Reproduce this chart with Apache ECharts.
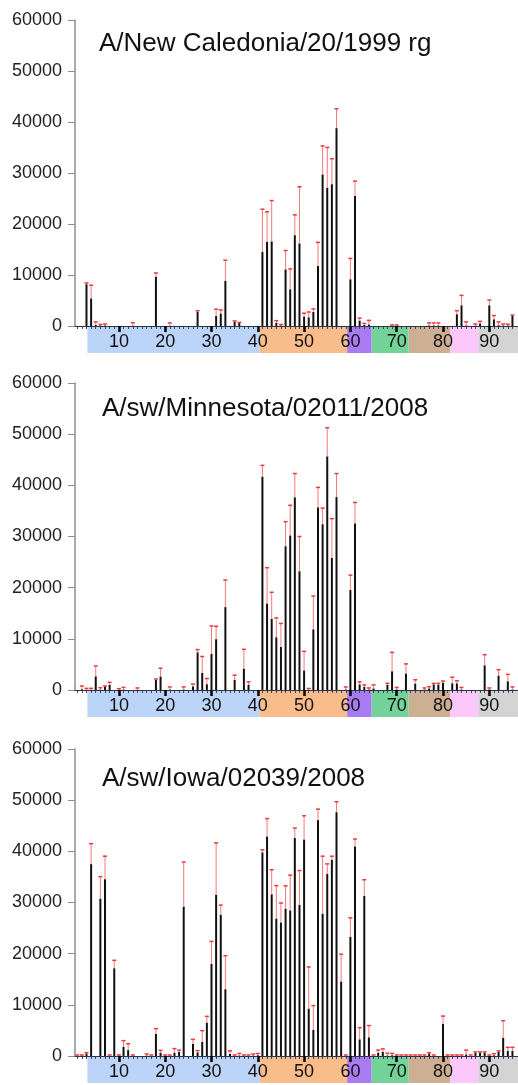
<!DOCTYPE html>
<html><head><meta charset="utf-8">
<script src="https://cdn.jsdelivr.net/npm/echarts@6/dist/echarts.min.js"></script>
<style>html,body{margin:0;padding:0;background:#fff}#c{width:518px;height:1085px}</style>
</head><body><div id="c"></div>
<script>
// ---------- data ----------
const positions = [1,2,3,4,5,6,7,8,9,10,11,12,13,14,15,16,17,18,19,20,21,22,23,24,25,26,27,28,29,30,
  31,32,33,34,35,36,37,38,39,40,41,42,43,44,45,46,47,48,49,50,51,52,53,54,55,56,57,58,59,60,
  61,62,63,64,65,66,67,68,69,70,71,72,73,74,75,76,77,78,79,80,81,82,83,84,85,86,87,88,89,90,
  91,92,93,94,95];
const tickLabels = [10,20,30,40,50,60,70,80,90];
const titles = ['A/New Caledonia/20/1999 rg','A/sw/Minnesota/02011/2008','A/sw/Iowa/02039/2008'];
const bandEdges = [3.2,40.4,59.3,64.6,72.6,81.6,87.6,96.2];
const bandColors = ['#bcd4f8','#f9bd8c','#a97bf2','#72d298','#cdb093','#fcc8fb','#d4d4d4'];

// panel 1: values and error-bar tops
const p1Values = [0,0,8200,5400,200,100,100,0,0,0,0,0,50,0,0,0,0,9650,0,0,
  50,0,0,0,0,0,2800,0,0,0,1950,2450,8850,0,850,600,0,0,0,0,
  14500,16500,16600,600,100,11100,7200,17800,16200,1850,1700,2750,11750,29700,27100,27800,38800,0,0,9150,
  25500,1050,200,300,0,0,0,0,50,50,0,0,0,0,0,0,100,100,100,0,
  0,0,2300,4050,100,0,100,500,0,4050,1300,150,100,100,2050];
const p1ErrTop = [0,0,8450,8000,800,300,400,0,0,0,0,0,650,0,0,0,0,10400,0,0,
  600,0,0,0,0,0,3000,0,0,0,3300,3150,12900,0,1000,700,0,0,0,0,
  22900,22400,24600,1050,300,14800,11200,21800,27300,2500,2750,3350,16400,35300,35000,32800,42600,0,0,13250,
  28400,1550,500,1100,0,0,0,0,200,200,0,0,0,0,0,0,600,600,600,0,
  0,0,3000,6000,800,0,400,900,0,5100,2050,800,400,350,2150];

// panel 2
const p2Values = [0,150,50,50,2670,100,650,1000,0,50,100,0,0,50,0,0,0,1950,2650,0,
  100,0,0,100,0,700,7360,3350,1130,7030,9930,0,16200,0,1970,0,4170,1050,0,0,
  41700,16900,13900,10300,8400,28100,30200,37650,23200,3800,50,11850,35700,32400,45650,25800,37700,0,100,19550,
  32550,1100,650,100,300,0,0,1000,3650,100,0,3200,0,1250,0,100,300,1100,1050,1450,
  0,1300,1300,100,0,0,0,0,4820,100,0,2830,0,1700,100];
const p2ErrTop = [0,780,320,320,4700,450,780,1500,0,260,520,0,0,400,0,0,0,2150,4250,0,
  600,0,0,600,0,1170,7900,6550,2250,12500,12450,0,21500,0,2900,0,7950,1600,0,0,
  43900,23900,19100,14100,13000,32900,36100,42300,30000,7550,300,18350,39600,35550,51250,33500,42300,0,600,22450,
  36650,1580,1000,400,1000,0,0,1300,7350,500,0,5100,0,2000,0,400,650,1300,1300,1750,
  0,2500,1800,500,0,0,0,0,6900,400,0,3970,0,3060,600];

// panel 3
const p3Values = [50,50,520,37500,0,30750,34550,50,17150,50,1800,1150,50,0,0,100,50,4300,650,50,
  50,650,800,29200,0,2350,700,2750,6500,18000,31500,27600,13050,400,50,100,50,50,100,150,
  39800,42900,31600,26850,26100,28800,28450,42600,29550,42300,9250,5100,46100,27800,35600,38350,47650,14550,50,23300,
  40950,3250,31300,3650,50,650,800,100,150,50,50,50,50,50,50,50,500,50,0,6250,
  50,50,50,50,300,50,650,650,650,50,150,850,3550,1000,1000];
const p3ErrTop = [200,200,650,41500,0,35050,39050,200,18700,200,3000,2400,200,0,0,400,200,5350,1100,200,
  200,1450,1150,37900,0,3250,1050,4950,7750,22400,41650,29500,19600,1000,200,500,200,200,400,500,
  40300,46400,36400,33300,29900,33250,35350,44550,36250,46950,17400,9850,48250,39050,37550,39050,49700,19900,200,27000,
  42400,5550,34450,5950,200,1150,1400,550,500,200,200,200,200,200,200,200,650,200,0,7800,
  200,200,200,200,1150,200,800,800,800,200,450,1000,6900,1700,1700];

const panelValues = [p1Values, p2Values, p3Values];
const panelErrTop = [p1ErrTop, p2ErrTop, p3ErrTop];

// ---------- layout ----------
const XMIN = 0.52, XMAX = 96.2;
const panelTop = [20, 383, 749];
const panelH = [306, 307, 307];
const titleTop = [31, 396, 766];
const titleLeft = [99, 102, 102];
const bandH = 27;
const FONT = '"Liberation Sans", Arial, Helvetica, sans-serif';

const grid = [], xAxis = [], yAxis = [], series = [], title = [];
for (let p = 0; p < 3; p++) {
  const gMain = grid.length;
  grid.push({left: 75, right: 0, top: panelTop[p], height: panelH[p]});
  const gBand = grid.length;
  grid.push({left: 75, right: 0, top: panelTop[p] + panelH[p], height: bandH});

  const xMajor = xAxis.length;
  xAxis.push({
    gridIndex: gMain, type: 'value', position: 'bottom', min: XMIN, max: XMAX, z: 10,
    axisLine: {show: true, onZero: false, lineStyle: {color: '#2e3448', width: 1}},
    axisTick: {show: true, customValues: tickLabels, length: 6, lineStyle: {color: '#000', width: 2.5}},
    axisLabel: {show: true, customValues: tickLabels, fontSize: 18, color: '#111', margin: 7, fontFamily: FONT},
    splitLine: {show: false}
  });
  xAxis.push({
    gridIndex: gMain, type: 'value', position: 'bottom', min: XMIN, max: XMAX, z: 9,
    axisLine: {show: false, onZero: false},
    axisTick: {show: true, customValues: positions, length: 3, lineStyle: {color: '#3b4560', width: 1}},
    axisLabel: {show: false},
    splitLine: {show: false}
  });
  const xBand = xAxis.length;
  xAxis.push({gridIndex: gBand, type: 'value', min: XMIN, max: XMAX, show: false});

  const yMain = yAxis.length;
  yAxis.push({
    gridIndex: gMain, type: 'value', min: 0, max: 60000, interval: 10000,
    axisLine: {show: true, lineStyle: {color: '#8e8e8e', width: 1.5}},
    axisTick: {show: true, length: 7, lineStyle: {color: '#8e8e8e', width: 1}},
    axisLabel: {fontSize: 18, color: '#222', margin: 13, fontFamily: FONT, formatter: v => String(v)},
    splitLine: {show: false}
  });
  const yBand = yAxis.length;
  yAxis.push({gridIndex: gBand, type: 'value', min: 0, max: 1, show: false});

  // domain bands
  const bandData = bandColors.map((c, i) => [bandEdges[i], bandEdges[i + 1], i]);
  series.push({
    type: 'custom', xAxisIndex: xBand, yAxisIndex: yBand, z: 1, silent: true,
    data: bandData,
    renderItem: (params, api) => {
      const a = api.coord([api.value(0), 1]);
      const b = api.coord([api.value(1), 0]);
      return {type: 'rect', shape: {x: a[0], y: a[1], width: b[0] - a[0], height: b[1] - a[1]},
        style: {fill: bandColors[api.value(2)]}};
    }
  });

  // bars
  const vals = panelValues[p], tops = panelErrTop[p];
  series.push({
    type: 'bar', xAxisIndex: xMajor, yAxisIndex: yMain, barWidth: 2, z: 3,
    itemStyle: {color: '#111'},
    data: positions.map((x, i) => [x, vals[i]])
  });
  // error bars
  series.push({
    type: 'custom', xAxisIndex: xMajor, yAxisIndex: yMain, z: 4, silent: true,
    data: positions.map((x, i) => [x, vals[i], tops[i]]),
    renderItem: (params, api) => {
      const x = api.value(0), v = api.value(1), t = api.value(2);
      if (!(t > v)) return null;
      const p0 = api.coord([x, v]);
      const p1 = api.coord([x, t]);
      return {type: 'group', children: [
        {type: 'line', shape: {x1: p0[0], y1: p0[1], x2: p1[0], y2: p1[1]},
          style: {stroke: '#f27a7a', lineWidth: 1}},
        {type: 'line', shape: {x1: p1[0] - 2, y1: p1[1], x2: p1[0] + 2, y2: p1[1]},
          style: {stroke: '#ec3a3a', lineWidth: 1.5}}
      ]};
    }
  });

  title.push({
    text: titles[p], left: titleLeft[p], top: titleTop[p], padding: 0,
    textStyle: {fontSize: 26, fontWeight: 'normal', color: '#111', fontFamily: FONT}
  });
}

const chart = echarts.init(document.getElementById('c'), null, {renderer: 'canvas'});
chart.setOption({
  animation: false,
  backgroundColor: '#fff',
  textStyle: {fontFamily: FONT},
  title, grid, xAxis, yAxis, series
});
</script>
</body></html>
